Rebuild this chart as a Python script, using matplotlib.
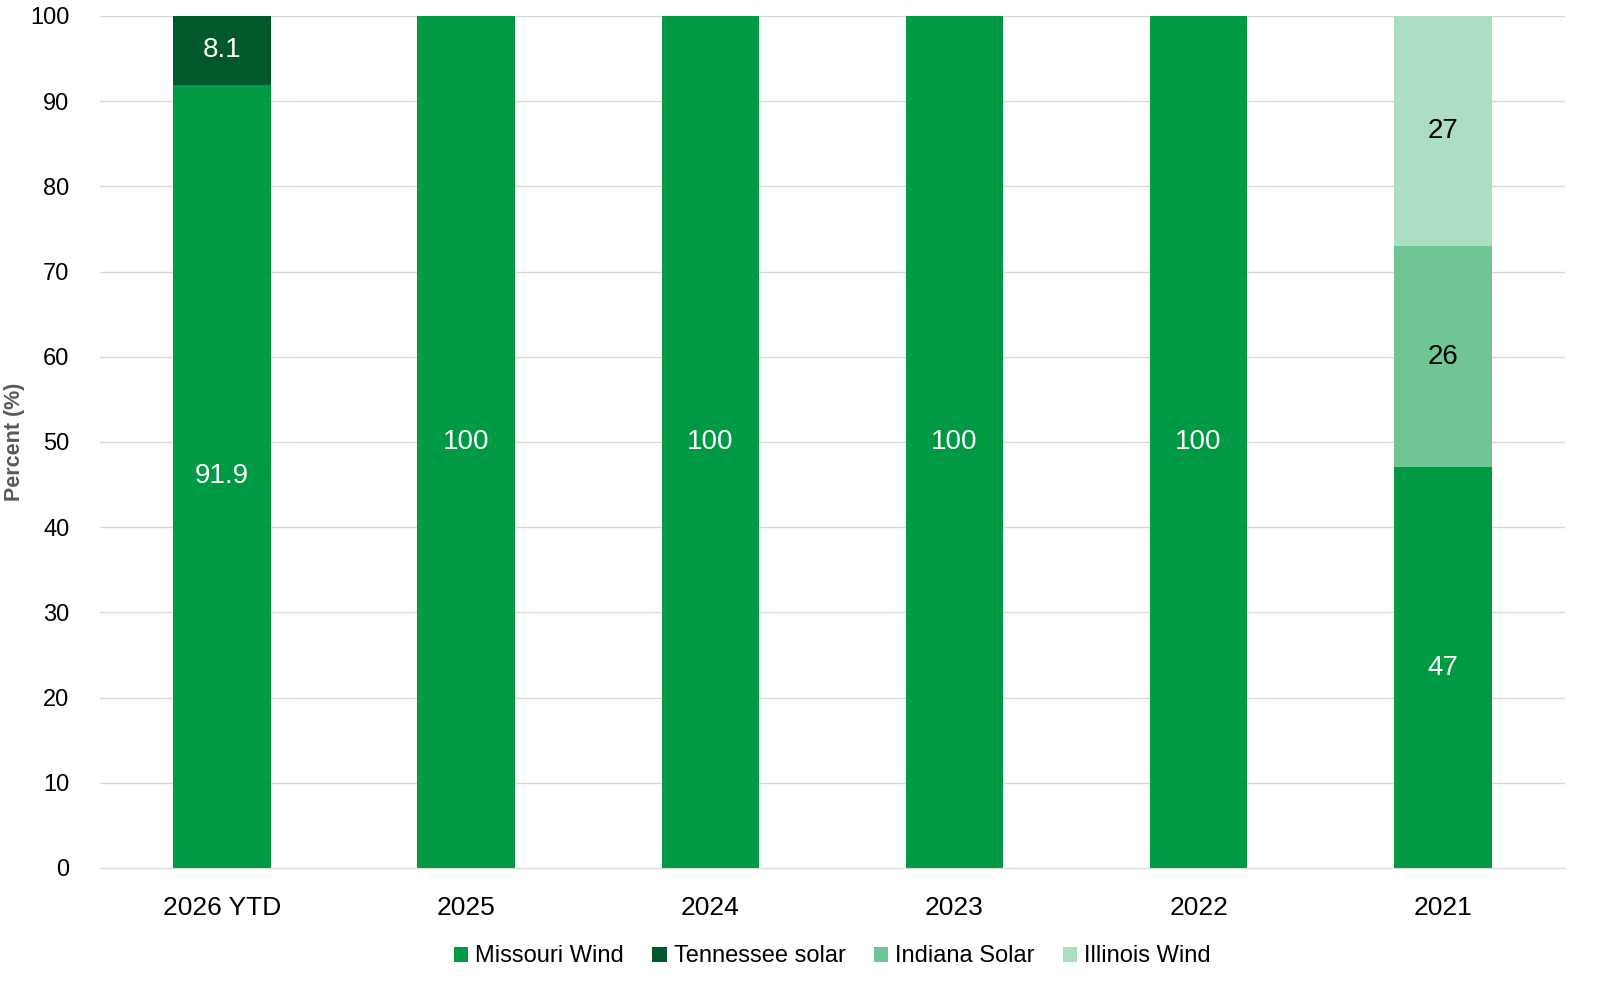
import matplotlib.pyplot as plt
import numpy as np

plt.rcParams['font.family'] = ['Liberation Sans', 'DejaVu Sans']

years = ["2026 YTD", "2025", "2024", "2023", "2022", "2021"]
missouri_wind = [91.9, 100, 100, 100, 100, 47]
tennessee_solar = [8.1, 0, 0, 0, 0, 0]
indiana_solar = [0, 0, 0, 0, 0, 26]
illinois_wind = [0, 0, 0, 0, 0, 27]

series = [
    ("Missouri Wind", missouri_wind, "#009A44", "white"),
    ("Tennessee solar", tennessee_solar, "#00582B", "white"),
    ("Indiana Solar", indiana_solar, "#6FC694", "black"),
    ("Illinois Wind", illinois_wind, "#ABDEC2", "black"),
]

fig, ax = plt.subplots(figsize=(16, 9.97), dpi=100)
fig.subplots_adjust(left=0.0625, right=0.978, top=0.984, bottom=0.1295)

x = np.arange(len(years))
bottom = np.zeros(len(years))
for name, vals, color, tcolor in series:
    vals = np.array(vals, dtype=float)
    ax.bar(x, vals, width=0.4, bottom=bottom, color=color, label=name, zorder=2)
    for xi, v, b in zip(x, vals, bottom):
        if v > 0:
            ax.text(xi, b + v / 2, f"{v:g}", ha="center", va="center",
                    color=tcolor, fontsize=20, zorder=3)
    bottom += vals

ax.set_xlim(-0.5, len(years) - 0.5)
ax.set_ylim(0, 100)
ax.set_yticks(range(0, 101, 10))
ax.yaxis.grid(True, color="#D9D9D9", linewidth=1, zorder=0)
ax.set_axisbelow(True)
for s in ["top", "right", "left"]:
    ax.spines[s].set_visible(False)
ax.spines["bottom"].set_color("#D9D9D9")
ax.tick_params(axis="both", length=0)
ax.tick_params(axis="y", labelsize=17, pad=22)
ax.tick_params(axis="x", labelsize=19, pad=20)
ax.set_xticks(x)
ax.set_xticklabels(years)
ax.set_ylabel("Percent (%)", fontsize=15.5, fontweight="bold", color="#595959", labelpad=4)

ax.legend(loc="upper center", bbox_to_anchor=(0.5, -0.066), ncol=4, frameon=False,
          fontsize=17, handlelength=0.6, handleheight=0.6, handletextpad=0.3,
          columnspacing=1.2)

plt.savefig("out.png", dpi=100)
